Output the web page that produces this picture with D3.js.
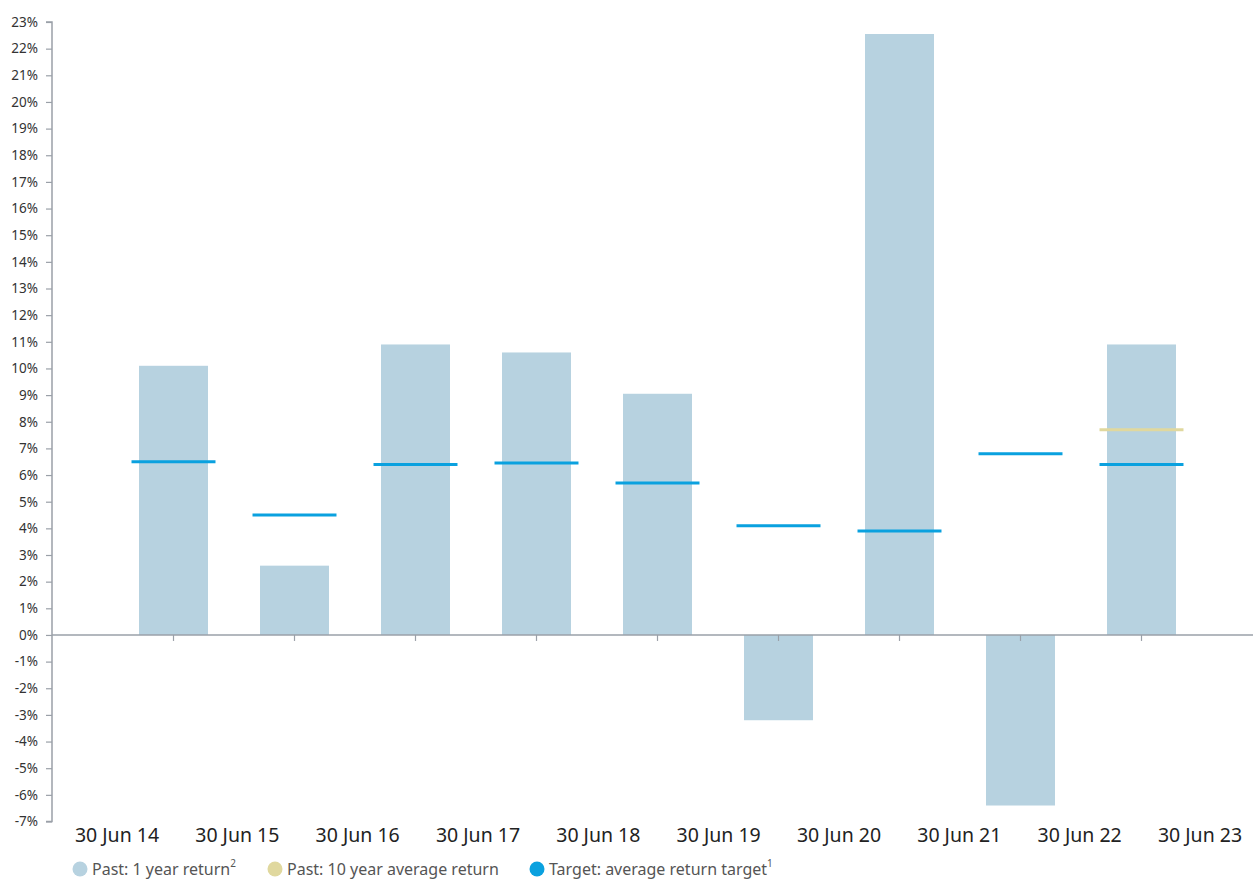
<!DOCTYPE html>
<html>
<head>
<meta charset="utf-8">
<script src="https://cdn.jsdelivr.net/npm/d3@7"></script>
<style>
  body { margin: 0; background: #fff; }
  svg text { font-family: "Noto Sans", "Open Sans", sans-serif; }
</style>
</head>
<body>
<div id="chart"></div>
<script>
// period end labels (band edges)
var dateLabels = ["30 Jun 14", "30 Jun 15", "30 Jun 16", "30 Jun 17", "30 Jun 18",
                  "30 Jun 19", "30 Jun 20", "30 Jun 21", "30 Jun 22", "30 Jun 23"];
// one bar per year between consecutive labels
var periods = ["FY15", "FY16", "FY17", "FY18", "FY19", "FY20", "FY21", "FY22", "FY23"];
var oneYearReturn = [10.1, 2.6, 10.9, 10.6, 9.05, -3.2, 22.55, -6.4, 10.9];
var returnTarget = [6.5, 4.5, 6.4, 6.45, 5.7, 4.1, 3.9, 6.8, 6.4];
var tenYearAvg = [null, null, null, null, null, null, null, null, 7.7];
var yTicks = d3.range(-7, 24);

var legendItems = [
  {label: "Past: 1 year return", sup: "2", color: "#b7d2e0", x: 80},
  {label: "Past: 10 year average return", sup: "", color: "#e0d89e", x: 275},
  {label: "Target: average return target", sup: "1", color: "#0aa1df", x: 537}
];

var svgWidth = 1253, svgHeight = 879;
var svg = d3.select("#chart").append("svg")
  .attr("width", svgWidth)
  .attr("height", svgHeight);

var axisX = 52;
var y = d3.scaleLinear().domain([-7, 23]).range([821.5, 22]);
var x = d3.scaleBand().domain(periods).range([113, 1202]).paddingInner(0.43).paddingOuter(0.215);
var edge = d3.scaleLinear().domain([0, dateLabels.length - 1]).range([117, 1200]);

// y axis
var yAxis = svg.append("g")
  .attr("transform", `translate(${axisX},0)`)
  .call(d3.axisLeft(y).tickValues(yTicks).tickSize(6).tickPadding(8).tickFormat(d => d + "%"));
yAxis.select(".domain").attr("stroke", "#9aa0a8").attr("stroke-width", 1.5).attr("d", `M-6,${y(23)}H0V${y(-7)}H-6`);
yAxis.selectAll(".tick line").attr("stroke", "#9aa0a8").attr("stroke-width", 1.2);
yAxis.selectAll(".tick text").attr("fill", "#333").attr("font-size", "13.5px");

// bars
svg.selectAll("rect.bar")
  .data(periods)
  .enter()
  .append("rect")
  .attr("class", "bar")
  .attr("x", d => x(d))
  .attr("width", x.bandwidth())
  .attr("y", (d, i) => y(Math.max(0, oneYearReturn[i])))
  .attr("height", (d, i) => Math.abs(y(oneYearReturn[i]) - y(0)))
  .attr("fill", "#b7d2e0");

// zero line with ticks at bar centres
svg.append("line")
  .attr("x1", axisX).attr("x2", svgWidth)
  .attr("y1", y(0)).attr("y2", y(0))
  .attr("stroke", "#9aa0a8").attr("stroke-width", 1.5);
svg.selectAll("line.xtick")
  .data(periods)
  .enter()
  .append("line")
  .attr("class", "xtick")
  .attr("x1", d => x(d) + x.bandwidth() / 2)
  .attr("x2", d => x(d) + x.bandwidth() / 2)
  .attr("y1", y(0)).attr("y2", y(0) + 6)
  .attr("stroke", "#9aa0a8").attr("stroke-width", 1.2);

// target and 10 year average markers
var ext = 7.5;
svg.selectAll("line.target")
  .data(periods)
  .enter()
  .append("line")
  .attr("class", "target")
  .attr("x1", d => x(d) - ext)
  .attr("x2", d => x(d) + x.bandwidth() + ext)
  .attr("y1", (d, i) => y(returnTarget[i]))
  .attr("y2", (d, i) => y(returnTarget[i]))
  .attr("stroke", "#0aa1df").attr("stroke-width", 3);

svg.selectAll("line.avg")
  .data(periods.filter((d, i) => tenYearAvg[i] != null))
  .enter()
  .append("line")
  .attr("class", "avg")
  .attr("x1", d => x(d) - ext)
  .attr("x2", d => x(d) + x.bandwidth() + ext)
  .attr("y1", d => y(tenYearAvg[periods.indexOf(d)]))
  .attr("y2", d => y(tenYearAvg[periods.indexOf(d)]))
  .attr("stroke", "#e0d89e").attr("stroke-width", 3);

// date labels at band edges
svg.selectAll("text.date")
  .data(dateLabels)
  .enter()
  .append("text")
  .attr("class", "date")
  .attr("x", (d, i) => edge(i))
  .attr("y", 842)
  .attr("text-anchor", "middle")
  .attr("font-size", "19.5px")
  .attr("fill", "#222")
  .text(d => d);

// legend
var legend = svg.selectAll("g.legend")
  .data(legendItems)
  .enter()
  .append("g")
  .attr("class", "legend")
  .attr("transform", d => `translate(${d.x},869)`);
legend.append("circle").attr("r", 7.5).attr("fill", d => d.color);
var lt = legend.append("text")
  .attr("x", 12)
  .attr("y", 6)
  .attr("font-size", "16px")
  .attr("fill", "#555");
lt.append("tspan").text(d => d.label);
lt.append("tspan").attr("dy", -8).attr("font-size", "10px").text(d => d.sup);
</script>
</body>
</html>
